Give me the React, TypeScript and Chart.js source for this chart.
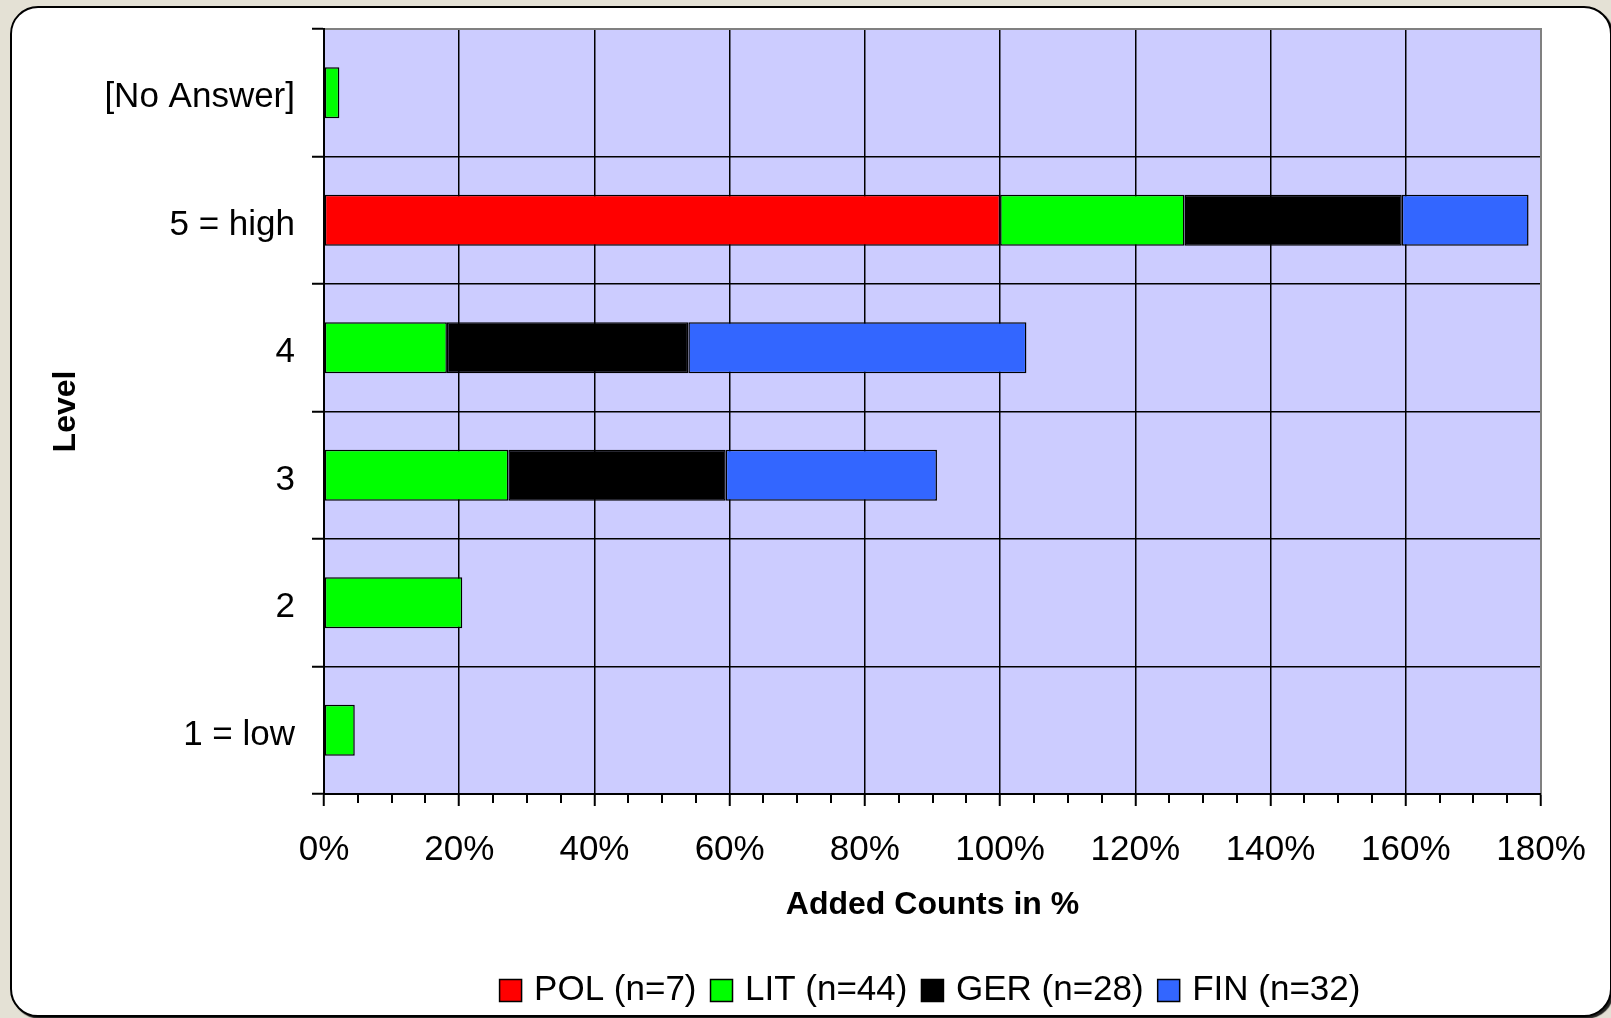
import React, { useEffect, useRef } from "react";
import { Chart, registerables } from "chart.js";

Chart.register(...registerables);

// ---- data ----
const categories = ["[No Answer]", "5 = high", "4", "3", "2", "1 = low"];
const seriesNames = ["POL (n=7)", "LIT (n=44)", "GER (n=28)", "FIN (n=32)"];
const polValues = [0, 100, 0, 0, 0, 0];
const litValues = [2.27, 27.27, 18.18, 27.27, 20.45, 4.55];
const gerValues = [0, 32.14, 35.71, 32.14, 0, 0];
const finValues = [0, 18.75, 50.0, 31.25, 0, 0];
const xMin = 0;
const xMax = 180;
const xMajorStep = 20;
const xMinorStep = 5;
const xTitle = "Added Counts in %";
const yTitle = "Level";

const seriesColors = ["#FF0000", "#00FF00", "#000000", "#3366FF"];

const FONT = "'Liberation Sans', Arial, Helvetica, sans-serif";
const W = 1611;
const H = 1018;

const framePlugin = {
  id: "excelFrame",
  afterLayout(chart: any) {
    const a = chart.chartArea;
    const lg = chart.legend;
    if (lg && a) {
      lg.left = a.left;
      lg.right = a.right;
      lg.width = a.right - a.left;
    }
  },
  beforeDraw(chart: any) {
    const { ctx, chartArea: a } = chart;
    ctx.save();
    ctx.fillStyle = "#CCCCFF";
    ctx.fillRect(a.left, a.top, a.right - a.left, a.bottom - a.top);
    ctx.restore();
  },
  beforeDatasetsDraw(chart: any) {
    const { ctx, chartArea: a } = chart;
    ctx.save();
    ctx.strokeStyle = "#808080";
    ctx.lineWidth = 2;
    ctx.beginPath();
    ctx.moveTo(a.left + 1, a.top);
    ctx.lineTo(a.right, a.top);
    ctx.lineTo(a.right, a.bottom - 1);
    ctx.stroke();
    ctx.restore();
  },
  afterDraw(chart: any) {
    const { ctx, chartArea: a } = chart;
    const xs = chart.scales.x;
    ctx.save();
    ctx.strokeStyle = "#000";
    ctx.lineWidth = 2;
    ctx.beginPath();
    for (let v = xMin; v <= xMax; v += xMinorStep) {
      if (v % xMajorStep === 0) continue;
      const px = Math.round(xs.getPixelForValue(v));
      ctx.moveTo(px, a.bottom);
      ctx.lineTo(px, a.bottom + 9);
    }
    ctx.stroke();
    ctx.restore();
  },
};

export default function App() {
  const canvasRef = useRef<HTMLCanvasElement | null>(null);

  useEffect(() => {
    if (!canvasRef.current) return;
    Chart.defaults.font.family = FONT;
    Chart.defaults.color = "#000";
    const valueSets = [polValues, litValues, gerValues, finValues];
    const chart = new Chart(canvasRef.current, {
      type: "bar",
      data: {
        labels: categories,
        datasets: seriesNames.map((name, i) => ({
          label: name,
          data: valueSets[i],
          backgroundColor: seriesColors[i],
          borderColor: "#000",
          borderWidth: 1.5,
          borderSkipped: false,
          barPercentage: 0.4,
          categoryPercentage: 1.0,
          pointStyle: "rect",
        })),
      },
      options: {
        indexAxis: "y",
        animation: false,
        responsive: false,
        maintainAspectRatio: false,
        layout: { padding: { top: 29, right: 70, bottom: 0, left: 0 } },
        plugins: {
          tooltip: { enabled: false },
          legend: {
            position: "bottom",
            labels: {
              font: { size: 35, family: FONT },
              color: "#000",
              usePointStyle: true,
              pointStyle: "rect",
              boxWidth: 12,
              boxHeight: 22,
              padding: 19,
            },
          },
        },
        scales: {
          x: {
            type: "linear",
            stacked: true,
            min: xMin,
            max: xMax,
            afterFit: (s: any) => {
              s.height = 160;
            },
            ticks: {
              stepSize: xMajorStep,
              autoSkip: false,
              maxRotation: 0,
              padding: 23,
              font: { size: 35, family: FONT },
              color: "#000",
              callback: (v: any) => `${v}%`,
            },
            grid: {
              color: "#000",
              lineWidth: 1.5,
              tickLength: 12,
              tickColor: "#000",
              tickWidth: 2,
            },
            border: { color: "#000", width: 2 },
            title: {
              display: true,
              text: xTitle,
              color: "#000",
              font: { size: 32, weight: "bold", family: FONT },
              padding: { top: 0, bottom: 30 },
            },
          },
          y: {
            type: "category",
            stacked: true,
            afterFit: (s: any) => {
              s.width = 324;
              s.paddingTop = 0;
              s.paddingBottom = 0;
            },
            ticks: {
              padding: 17,
              labelOffset: 5,
              font: { size: 35, family: FONT },
              color: "#000",
            },
            grid: {
              color: "#000",
              lineWidth: 1.5,
              tickLength: 12,
              tickColor: "#000",
              tickWidth: 2,
              offset: true,
            },
            border: { color: "#000", width: 2 },
            title: {
              display: true,
              text: yTitle,
              color: "#000",
              font: { size: 32, weight: "bold", family: FONT },
              padding: { top: 47, bottom: 0 },
            },
          },
        },
      },
      plugins: [framePlugin],
    } as any);
    return () => chart.destroy();
  }, []);

  return (
    <div
      style={{
        position: "fixed",
        left: 0,
        top: 0,
        width: W,
        height: H,
        background: "#E4E1D5",
        overflow: "hidden",
      }}
    >
      <div
        style={{
          position: "absolute",
          left: 10,
          top: 6,
          width: 1602,
          height: 1011,
          boxSizing: "border-box",
          background: "#FFFFFF",
          border: "2px solid #000",
          borderRadius: 28,
          boxShadow: "2px 2px 1px rgba(0,0,0,0.85)",
        }}
      />
      <canvas
        ref={canvasRef}
        width={W}
        height={H}
        style={{ position: "absolute", left: 0, top: 0, width: W, height: H }}
      />
    </div>
  );
}
